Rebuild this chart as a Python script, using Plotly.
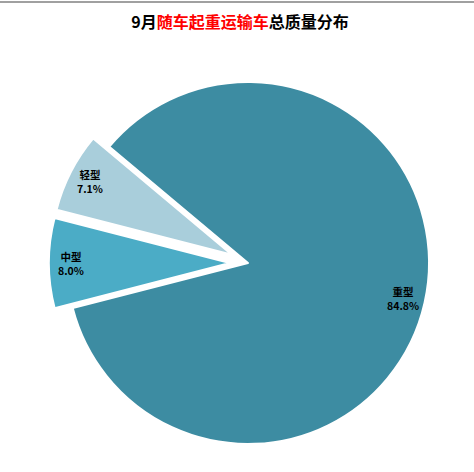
import math
import plotly.graph_objects as go

labels = ['轻型', '中型', '重型']
values = [7.1, 8.0, 84.8]
colors = ['#A9CEDB', '#4BACC6', '#3D8CA2']
pulls = [0.1, 0.1, 0]

W, H = 474, 472
cx, cy, r = 248, 263, 181          # pie centre and radius in pixels
start_deg = 140                    # where the first slice starts (counter-clockwise from 3 o'clock)
half = r * (1 + max(pulls))

fig = go.Figure(go.Pie(
    labels=labels,
    values=values,
    sort=False,
    direction='counterclockwise',
    rotation=-75.6,
    pull=pulls,
    marker=dict(colors=colors, line=dict(color='white', width=2)),
    textinfo='none',
    hoverinfo='label+value',
    domain=dict(x=[(cx - half) / W, (cx + half) / W],
                y=[1 - (cy + half) / H, 1 - (cy - half) / H]),
    showlegend=False,
))

# slice labels along each slice's middle angle, near the rim
total = sum(values)
acc = 0
annotations = []
for lab, val, p in zip(labels, values, pulls):
    mid = math.radians(start_deg + 360 * (acc + val / 2) / total)
    acc += val
    d = r * (p + 0.88)
    annotations.append(dict(
        x=(cx + d * math.cos(mid)) / W, y=1 - (cy - d * math.sin(mid)) / H,
        xref='paper', yref='paper', xanchor='center', yanchor='middle',
        showarrow=False,
        text='<b>%s</b><br><b>%.1f%%</b>' % (lab, val),
        font=dict(size=10.5, color='black', family='Noto Sans CJK SC'),
    ))

fig.update_layout(
    width=W, height=H,
    margin=dict(l=0, r=0, t=0, b=0),
    paper_bgcolor='white',
    title=dict(
        text="<b>9月<span style='color:#FF0000'>随车起重运输车</span>总质量分布</b>",
        x=240 / W, xanchor='center', y=1 - 22 / H, yanchor='middle',
        font=dict(size=16, color='black', family='Noto Sans CJK SC'),
    ),
    annotations=annotations,
    shapes=[dict(type='line', xref='paper', yref='paper', x0=0, x1=1,
                 y0=1 - 2 / H, y1=1 - 2 / H,
                 line=dict(color='#A0A0A0', width=2))],
)

fig.write_html('out.html', config={'displayModeBar': False},
               post_script="document.body.style.margin='0';")
